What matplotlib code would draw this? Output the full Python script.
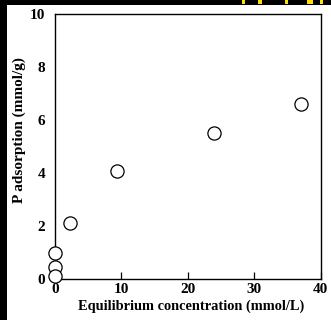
import matplotlib
matplotlib.use("Agg")
import matplotlib.pyplot as plt
from matplotlib.patches import Rectangle

# Data
conc = [0.0, 0.0, 0.0, 2.2, 9.3, 23.9, 37.0]
p_ads = [0.97, 0.44, 0.11, 2.10, 4.09, 5.50, 6.59]

x_ticks = [0, 10, 20, 30, 40]
y_ticks = [0, 2, 4, 6, 8, 10]

plt.rcParams['font.family'] = ['Liberation Serif', 'DejaVu Serif']
plt.rcParams['font.weight'] = 'bold'

W, H = 331, 320
fig = plt.figure(figsize=(W / 100, H / 100), dpi=100)
fig.patch.set_facecolor('white')

# black cropped edges
fig.patches.append(Rectangle((0, 1 - 5 / H), 1, 5 / H, transform=fig.transFigure,
                             facecolor='black', edgecolor='none', zorder=0))
fig.patches.append(Rectangle((0, 0), 7 / W, 1, transform=fig.transFigure,
                             facecolor='black', edgecolor='none', zorder=0))
for xp, wp in [(242, 3), (258, 4), (285, 3), (307, 6), (320, 3)]:
    fig.patches.append(Rectangle((xp / W, 1 - 4 / H), wp / W, 4 / H, transform=fig.transFigure,
                                 facecolor='#ffe000', edgecolor='none', zorder=1))

ax = fig.add_axes([55 / W, 1 - 279 / H, (320.7 - 55) / W, (279 - 14) / H])
ax.plot(conc, p_ads, linestyle='none', marker='o', markersize=9.5,
        markerfacecolor='white', markeredgecolor='black', markeredgewidth=0.9,
        clip_on=False, zorder=3)

ax.set_xlim(0, 40)
ax.set_ylim(0, 10)
ax.set_xticks(x_ticks)
ax.set_yticks(y_ticks)
ax.tick_params(axis='x', direction='in', length=5, width=0.9, pad=3, labelsize=11)
ax.tick_params(axis='y', length=0, pad=7, labelsize=11)
for lab in ax.get_xticklabels() + ax.get_yticklabels():
    lab.set_fontweight('bold')
for s in ax.spines.values():
    s.set_linewidth(1.0)

ax.set_xlabel('Equilibrium concentration (mmol/L)', fontsize=10.4, fontweight='bold')
ax.xaxis.set_label_coords((191 - 55) / 265.7, -(306 - 279) / 265, transform=ax.transAxes)
ax.xaxis.label.set_va('center')
ax.set_ylabel('P adsorption (mmol/g)', fontsize=11, fontweight='bold')
ax.yaxis.set_label_coords((19.5 - 55) / 265.7, (279 - 130) / 265, transform=ax.transAxes)
ax.yaxis.label.set_va('center')

fig.savefig('out.png', dpi=100)
